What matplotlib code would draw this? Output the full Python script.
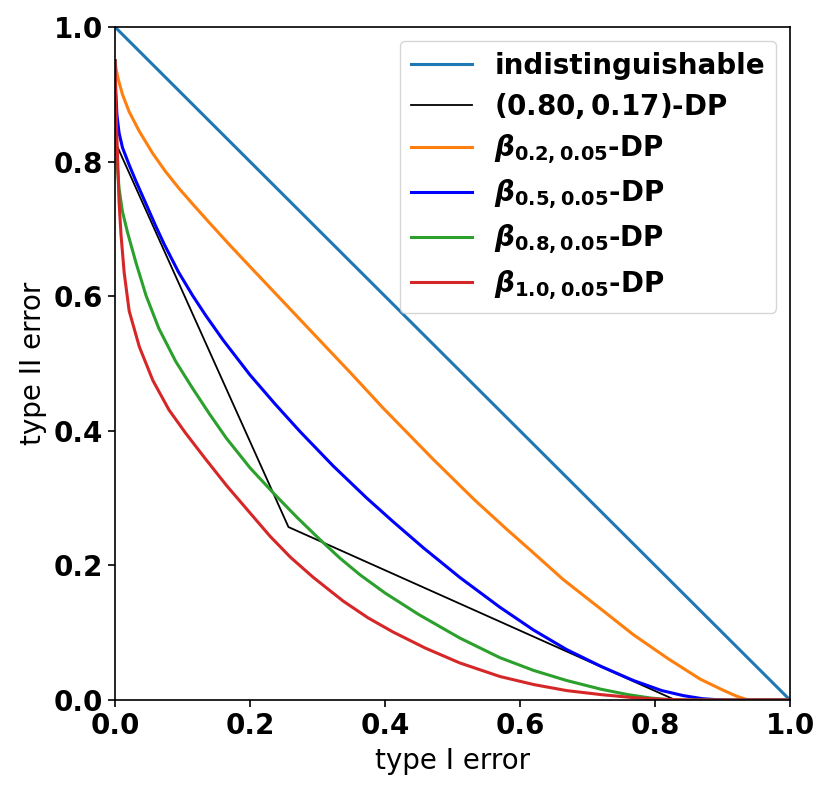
import matplotlib
matplotlib.use("Agg")
import matplotlib.pyplot as plt

# type I error (x) / type II error (y)
indist_x = [0.0, 1.0]
indist_y = [1.0, 0.0]

dp_x = [0.0, 0.257, 0.83, 1.0]
dp_y = [0.83, 0.257, 0.0, 0.0]

b02_x = [0.0, 0.0015, 0.0052, 0.011, 0.021, 0.036, 0.056, 0.075, 0.095, 0.115, 0.14, 0.17,
         0.2, 0.25, 0.299, 0.35, 0.397, 0.472, 0.533, 0.58, 0.615, 0.664, 0.72, 0.768,
         0.82, 0.867, 0.9, 0.92, 0.935, 0.945, 1.0]
b02_y = [0.95, 0.938, 0.921, 0.9, 0.874, 0.845, 0.812, 0.785, 0.76, 0.737, 0.709, 0.676,
         0.644, 0.591, 0.539, 0.485, 0.434, 0.357, 0.297, 0.254, 0.223, 0.179, 0.135, 0.097,
         0.061, 0.031, 0.015, 0.006, 0.001, 0.0, 0.0]

b05_x = [0.0, 0.001, 0.003, 0.006, 0.011, 0.021, 0.031, 0.046, 0.06, 0.073, 0.094, 0.115,
         0.134, 0.16, 0.2, 0.237, 0.274, 0.323, 0.373, 0.412, 0.457, 0.511, 0.57, 0.62,
         0.669, 0.72, 0.768, 0.81, 0.842, 0.87, 0.891, 0.91, 1.0]
b05_y = [0.95, 0.905, 0.868, 0.843, 0.821, 0.795, 0.771, 0.737, 0.705, 0.677, 0.636, 0.601,
         0.572, 0.535, 0.483, 0.44, 0.399, 0.348, 0.3, 0.265, 0.226, 0.182, 0.138, 0.104,
         0.075, 0.05, 0.029, 0.014, 0.0065, 0.002, 0.0005, 0.0, 0.0]

b08_x = [0.0, 0.001, 0.002, 0.003, 0.006, 0.011, 0.0185, 0.031, 0.046, 0.065, 0.09, 0.115,
         0.14, 0.165, 0.2, 0.237, 0.27, 0.304, 0.333, 0.363, 0.4, 0.45, 0.511, 0.57, 0.62,
         0.669, 0.72, 0.76, 0.793, 0.82, 0.84, 1.0]
b08_y = [0.95, 0.87, 0.83, 0.8, 0.76, 0.726, 0.695, 0.65, 0.601, 0.552, 0.503, 0.463,
         0.425, 0.389, 0.345, 0.305, 0.271, 0.238, 0.211, 0.186, 0.159, 0.127, 0.092, 0.063,
         0.044, 0.029, 0.016, 0.008, 0.003, 0.0005, 0.0, 0.0]

b10_x = [0.0, 0.001, 0.002, 0.004, 0.006, 0.009, 0.0136, 0.021, 0.036, 0.056, 0.08, 0.105,
         0.135, 0.165, 0.2, 0.23, 0.26, 0.294, 0.338, 0.375, 0.412, 0.46, 0.511, 0.57,
         0.62, 0.669, 0.72, 0.768, 0.81, 0.85, 1.0]
b10_y = [0.95, 0.9, 0.86, 0.8, 0.74, 0.69, 0.635, 0.578, 0.525, 0.475, 0.431, 0.396,
         0.357, 0.319, 0.278, 0.243, 0.212, 0.182, 0.147, 0.122, 0.101, 0.077, 0.055, 0.035,
         0.023, 0.014, 0.008, 0.0035, 0.001, 0.0, 0.0]

fig = plt.figure(figsize=(8.3, 7.93), dpi=100)
ax = fig.add_axes([115 / 830, 1 - 700 / 793, 675 / 830, 673 / 793])

ax.plot(indist_x, indist_y, color="tab:blue", lw=2.2, label="indistinguishable")
ax.plot(dp_x, dp_y, color="black", lw=1.3, label=r"$\mathbf{(0.80, 0.17)}$-DP")
ax.plot(b02_x, b02_y, color="tab:orange", lw=2.2,
        label=r"$\boldsymbol{\beta}_{\mathbf{0.2, 0.05}}$-DP")
ax.plot(b05_x, b05_y, color="blue", lw=2.2,
        label=r"$\boldsymbol{\beta}_{\mathbf{0.5, 0.05}}$-DP")
ax.plot(b08_x, b08_y, color="tab:green", lw=2.2,
        label=r"$\boldsymbol{\beta}_{\mathbf{0.8, 0.05}}$-DP")
ax.plot(b10_x, b10_y, color="tab:red", lw=2.2,
        label=r"$\boldsymbol{\beta}_{\mathbf{1.0, 0.05}}$-DP")

ax.set_xlim(0, 1)
ax.set_ylim(0, 1)
ax.set_xticks([0, 0.2, 0.4, 0.6, 0.8, 1.0])
ax.set_yticks([0, 0.2, 0.4, 0.6, 0.8, 1.0])
ax.tick_params(labelsize=20, width=1.2, length=5)
for lab in ax.get_xticklabels() + ax.get_yticklabels():
    lab.set_fontweight("bold")
for sp in ax.spines.values():
    sp.set_linewidth(1.2)

ax.set_xlabel("type I error", fontsize=20, labelpad=5)
ax.set_ylabel("type II error", fontsize=20, labelpad=5)

ax.legend(loc="upper right", prop={"weight": "bold", "size": 20},
          labelspacing=0.4, handlelength=2.2)

fig.savefig("out.png", dpi=100)
